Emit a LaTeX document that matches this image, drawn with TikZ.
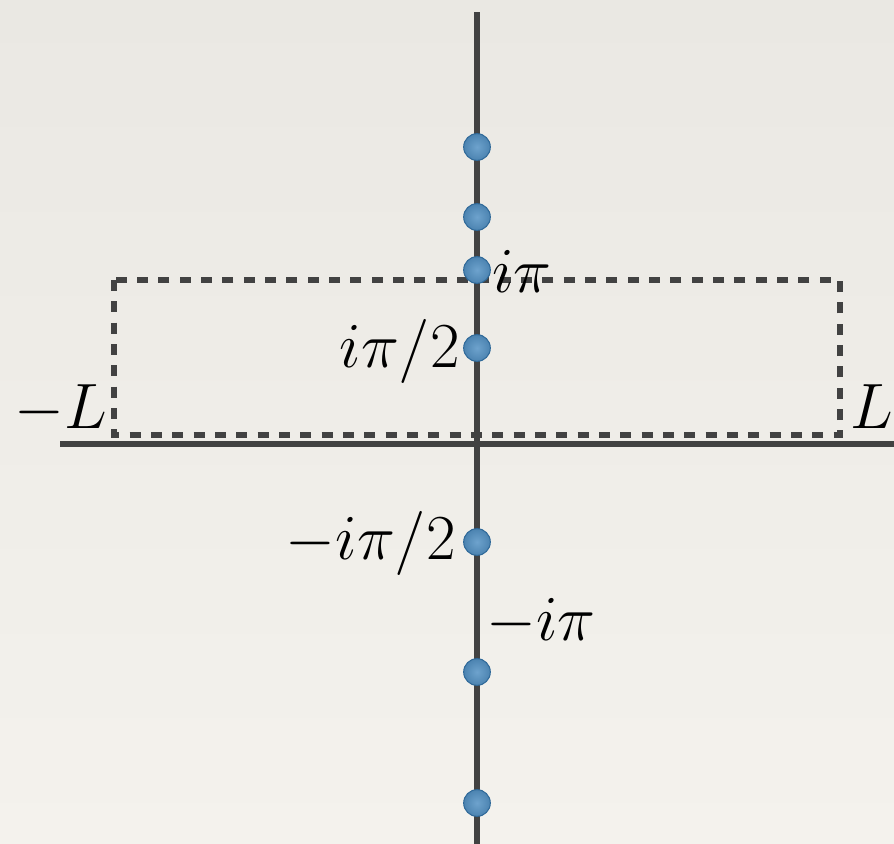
\documentclass[tikz,border=0pt]{standalone}
\usepackage{graphicx}
\usetikzlibrary{shadings}
\definecolor{axisgray}{RGB}{66,66,66}
\definecolor{dotblue}{RGB}{84,146,196}
\definecolor{dotdark}{RGB}{46,104,152}
\definecolor{papertop}{RGB}{234,232,227}
\definecolor{paperbot}{RGB}{244,242,237}
\newcommand{\biglab}[1]{\scalebox{2.2}{\Huge$#1$}}
\begin{document}
\begin{tikzpicture}[x=0.3mm,y=-0.3mm,
  axis/.style={draw=axisgray,line width=1.8mm},
  box/.style={draw=axisgray,line width=1.6mm,dash pattern=on 3.3mm off 3.1mm},
  pole/.style={circle,inner sep=0pt,minimum size=8mm,draw=dotdark,line width=0.3mm,inner color=dotblue!85!white,outer color=dotblue!90!black},
  lab/.style={inner sep=0pt}]
\shade[top color=papertop,bottom color=paperbot] (0,0) rectangle (894,844);
\useasboundingbox (0,0) rectangle (894,844);
\coordinate (vt) at (477,12);
\coordinate (vb) at (477,844);
\coordinate (hl) at (60,444);
\coordinate (hr) at (894,444);
\draw[axis] (vt) -- (vb);
\draw[axis] (hl) -- (hr);
\draw[box] (114,280) rectangle (840,435);
\node[pole] (p1) at (477,147) {};
\node[pole] (p2) at (477,217) {};
\node[pole] (p3) at (477,270) {};
\node[pole] (p4) at (477,348) {};
\node[pole] (p5) at (477,542) {};
\node[pole] (p6) at (477,672) {};
\node[pole] (p7) at (477,803) {};
\node[lab,anchor=base west] (lip) at (492,292) {\biglab{i\pi}};
\node[lab,anchor=base east] (lip2) at (460,367) {\biglab{i\pi/2}};
\node[lab,anchor=base east] (lml) at (107,428) {\biglab{-L}};
\node[lab,anchor=base west] (ll) at (850,428) {\biglab{L}};
\node[lab,anchor=base east] (lmip2) at (456,559) {\biglab{-i\pi/2}};
\node[lab,anchor=base west] (lmip) at (486,640) {\biglab{-i\pi}};
\end{tikzpicture}
\end{document}
